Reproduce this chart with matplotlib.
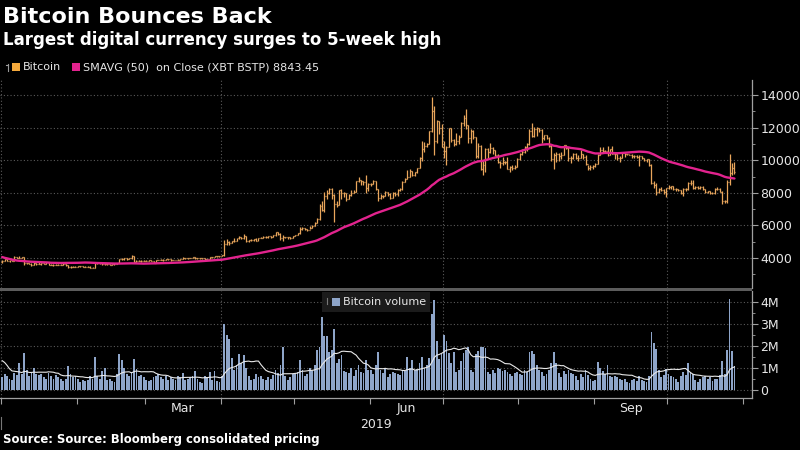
import numpy as np
import pandas as pd
import matplotlib
matplotlib.use("Agg")
import matplotlib.pyplot as plt
import matplotlib.dates as mdates
from matplotlib.lines import Line2D
from matplotlib.patches import Rectangle
from matplotlib.ticker import FixedLocator, MultipleLocator, NullFormatter

# ---------------- data ----------------
start_date = "2019-01-01"

# closes 13 Nov - 31 Dec 2018 (only used to warm up the 50-day average)
close_2018 = [6270, 5640, 5610, 5560, 5550, 5620, 4820, 4440, 4560, 4330, 4300, 3880, 4000, 3780, 3820, 4250, 4250, 3980,
              4170, 4120, 3840, 3930, 3760, 3500, 3400, 3420, 3540, 3430, 3380, 3470, 3280, 3220, 3200, 3240, 3550, 3690,
              3830, 4130, 3880, 3960, 3950, 4030, 3770, 3800, 3590, 3880, 3800, 3880, 3743]
# volume 18 - 31 Dec 2018 (millions, warm-up of the volume average)
volume_2018 = [1.9, 2.6, 2.8, 1.9, 1.0, 0.9, 1.4, 1.1, 0.9, 1.0, 1.2, 0.8, 0.8, 0.8]

close = [
    3843, 3943, 3837, 3858, 3845, 4076, 4026, 4030, 4035, 3678, 3688, 3661, 3553, 3706, 3630, 3655, 3678, 3657, 3729, 3601, 3577, 3601, 3584, 3600, 3599, 3603, 3584, 3477, 3438, 3472, 3448,
    3487, 3521, 3464, 3459, 3467, 3413, 3399, 3666, 3672, 3690, 3617, 3630, 3614, 3592, 3605, 3632, 3674, 3916, 3940, 3986, 3939, 3978, 4127, 3769, 3835, 3818, 3833, 3825,
    3838, 3848, 3807, 3722, 3861, 3875, 3882, 3864, 3934, 3919, 3864, 3886, 3868, 3878, 3934, 4020, 3982, 3986, 4012, 4036, 3970, 3981, 3991, 3985, 3927, 3946, 4051, 4048, 4104, 4118, 4111,
    4158, 4880, 4974, 4922, 5036, 5059, 5198, 5289, 5205, 5325, 5064, 5089, 5096, 5168, 5067, 5236, 5251, 5298, 5304, 5337, 5314, 5399, 5573, 5464, 5210, 5279, 5268, 5285, 5247, 5350,
    5402, 5505, 5768, 5831, 5795, 5746, 5830, 5982, 6174, 6379, 7204, 6973, 7815, 7995, 8206, 7885, 7343, 7272, 8197, 7979, 7964, 7627, 7877, 7996, 8059, 8727, 8785, 8719, 8660, 8276, 8561,
    8564, 8742, 8208, 7707, 7824, 7822, 8043, 7954, 7688, 8000, 7927, 8145, 8230, 8693, 8838, 8994, 9320, 9082, 9273, 9527, 10144, 10702, 10855, 11011, 11790, 13017, 11182, 12407, 11959, 10817,
    10583, 10801, 11961, 11215, 10978, 11208, 11450, 12285, 12573, 12156, 11358, 11815, 11393, 10256, 10895, 9477, 9693, 10666, 10530, 10767, 10599, 10343, 9900, 9811, 9911, 9871, 9477, 9553, 9519, 9607, 10085,
    10400, 10519, 10821, 10970, 11805, 11478, 11941, 11966, 11862, 11354, 11523, 11382, 10895, 10051, 10311, 10374, 10231, 10345, 10918, 10764, 10142, 10131, 10407, 10159, 10138, 10370, 10186, 9755, 9510, 9598, 9631,
    9757, 10347, 10624, 10595, 10588, 10323, 10681, 10400, 10359, 10108, 10160, 10415, 10361, 10358, 10347, 10277, 10242, 10199, 10229, 10160, 10005, 10070, 9700, 8586, 8495, 8075, 8213, 8192, 8042, 8307,
    8344, 8393, 8260, 8205, 8152, 7989, 8245, 8229, 8596, 8587, 8322, 8337, 8321, 8374, 8205, 8047, 8103, 7974, 7988, 8222, 8243, 8078, 7514, 7493, 8660, 9244, 9551, 9257,
]
high = [
    3850, 3948, 3945, 3866, 3904, 4094, 4092, 4110, 4067, 4065, 3720, 3697, 3674, 3728, 3720, 3730, 3683, 3685, 3782, 3745, 3611, 3633, 3621, 3618, 3612, 3668, 3610, 3585, 3487, 3495, 3508,
    3500, 3528, 3523, 3480, 3486, 3480, 3425, 3730, 3690, 3700, 3690, 3650, 3637, 3640, 3630, 3690, 3700, 3950, 4010, 4000, 4020, 3990, 4180, 4140, 3870, 3860, 3850, 3890,
    3860, 3860, 3860, 3830, 3880, 3900, 3910, 3925, 3940, 3940, 3920, 3900, 3890, 3915, 3950, 4080, 4030, 4010, 4030, 4050, 4060, 4000, 4010, 4000, 3990, 3960, 4060, 4060, 4120, 4150, 4130,
    4170, 5100, 5160, 5070, 5060, 5220, 5240, 5360, 5290, 5460, 5350, 5110, 5140, 5190, 5200, 5250, 5290, 5330, 5350, 5360, 5380, 5420, 5600, 5620, 5520, 5420, 5310, 5310, 5300, 5380,
    5420, 5530, 5880, 5880, 5840, 5810, 5970, 6000, 6200, 6430, 7300, 7480, 8050, 8150, 8300, 8300, 7950, 7470, 8200, 8250, 8050, 7990, 7940, 8150, 8150, 8750, 8950, 8800, 8720, 9070, 8600,
    8610, 8800, 8750, 8210, 7910, 7880, 8130, 8060, 7980, 8040, 8050, 8230, 8290, 8700, 8880, 9370, 9450, 9330, 9300, 9550, 10200, 11150, 11100, 11080, 11800, 13880, 13310, 12450, 12380, 12200,
    11200, 10900, 11970, 12000, 11300, 11670, 11550, 12330, 12780, 13130, 12160, 11900, 11840, 11450, 11050, 10940, 9980, 10740, 10740, 11050, 10800, 10640, 10350, 9930, 10170, 9960, 10200, 9640, 9690, 9720, 10110,
    10450, 10660, 10900, 11070, 11900, 12290, 12030, 12060, 12000, 11900, 11530, 11540, 11450, 10960, 10420, 10530, 10440, 10500, 10940, 10950, 10790, 10230, 10420, 10420, 10300, 10620, 10380, 10290, 9730, 9690, 9680,
    9800, 10410, 10800, 10800, 10650, 10900, 10700, 10880, 10480, 10390, 10240, 10440, 10440, 10400, 10380, 10370, 10290, 10290, 10300, 10270, 10160, 10100, 10080, 9790, 8730, 8580, 8310, 8330, 8230, 8320,
    8500, 8400, 8400, 8300, 8230, 8200, 8310, 8300, 8650, 8800, 8800, 8430, 8440, 8400, 8390, 8210, 8130, 8120, 8070, 8300, 8340, 8320, 8080, 7540, 8800, 10370, 9800, 9900,
]
low = [
    3707, 3817, 3812, 3784, 3836, 3826, 4015, 3997, 4016, 3589, 3630, 3607, 3522, 3550, 3600, 3626, 3596, 3625, 3652, 3563, 3548, 3530, 3569, 3569, 3553, 3588, 3521, 3413, 3400, 3431, 3440,
    3437, 3460, 3440, 3430, 3455, 3390, 3385, 3390, 3625, 3630, 3600, 3590, 3590, 3570, 3580, 3595, 3620, 3670, 3900, 3890, 3880, 3920, 3960, 3740, 3760, 3790, 3760, 3790,
    3820, 3830, 3790, 3690, 3710, 3850, 3860, 3840, 3850, 3880, 3840, 3850, 3850, 3860, 3870, 3930, 3960, 3960, 3970, 3990, 3940, 3950, 3960, 3960, 3890, 3910, 3940, 4020, 4040, 4080, 4090,
    4100, 4150, 4800, 4800, 4900, 4980, 5050, 5170, 5150, 5180, 5000, 5000, 5050, 5060, 5030, 5050, 5200, 5230, 5220, 5230, 5250, 5270, 5380, 5400, 5130, 5030, 5230, 5180, 5180, 5230,
    5320, 5390, 5500, 5740, 5700, 5630, 5760, 5830, 5970, 6170, 6330, 6900, 6850, 7630, 7930, 7600, 6180, 7100, 7250, 7600, 7750, 7500, 7600, 7800, 7960, 8030, 8650, 8500, 8480, 8000, 8130,
    8420, 8550, 8150, 7500, 7590, 7690, 7800, 7830, 7610, 7660, 7830, 7830, 8090, 8180, 8650, 8850, 8960, 9020, 9060, 9240, 9500, 9960, 10530, 10810, 11020, 11700, 10290, 11070, 11580, 10800,
    10130, 9700, 10790, 11090, 10900, 10950, 11000, 11420, 12070, 11910, 11050, 11050, 11310, 10150, 10150, 9420, 9070, 9300, 10150, 10460, 10390, 10250, 9820, 9550, 9730, 9770, 9450, 9290, 9400, 9480, 9580,
    10000, 10340, 10460, 10570, 10950, 11440, 11430, 11510, 11700, 11060, 11260, 11290, 10820, 9950, 9450, 9900, 9980, 10100, 10310, 10700, 9960, 9840, 10100, 10050, 9980, 10130, 10080, 9700, 9420, 9420, 9480,
    9590, 9750, 10330, 10440, 10440, 10250, 10330, 10350, 10090, 9990, 9900, 10110, 10210, 10300, 10290, 10130, 10160, 10130, 9650, 10060, 9970, 9910, 9670, 8520, 8280, 7870, 7970, 8100, 7950, 7750,
    8220, 8230, 8170, 8080, 8110, 7900, 7800, 8130, 8170, 8470, 8250, 8260, 8260, 8250, 8160, 7980, 7960, 7900, 7930, 7900, 8150, 8040, 7300, 7370, 7400, 8500, 9110, 9180,
]
volume_m = [
    0.55, 0.7, 0.6, 0.5, 0.45, 0.75, 0.65, 1.2, 0.7, 1.65, 0.9, 0.6, 0.8, 1.0, 0.7, 0.65, 0.7, 0.55, 0.5, 0.75, 0.6, 0.5, 0.65, 0.55, 0.5, 0.4, 0.5, 1.05, 0.7, 0.55, 0.6,
    0.5, 0.35, 0.45, 0.4, 0.45, 0.6, 0.5, 1.5, 0.6, 0.5, 0.85, 1.0, 0.45, 0.5, 0.4, 0.35, 0.7, 1.6, 1.35, 1.0, 0.7, 0.6, 0.8, 1.4, 0.95, 0.6, 0.65, 0.55,
    0.45, 0.4, 0.45, 0.55, 0.6, 0.7, 0.55, 0.5, 0.6, 0.45, 0.55, 0.5, 0.45, 0.6, 0.55, 0.77, 0.45, 0.5, 0.55, 0.6, 0.83, 0.5, 0.35, 0.3, 0.6, 0.55, 0.8, 0.45, 0.85, 0.4, 0.35,
    0.6, 2.98, 2.5, 2.3, 1.45, 0.9, 1.1, 1.6, 1.2, 1.55, 1.0, 0.6, 0.45, 0.5, 0.7, 0.55, 0.6, 0.5, 0.45, 0.55, 0.5, 0.65, 0.9, 0.75, 1.1, 1.95, 0.6, 0.45, 0.55, 0.7,
    0.75, 0.8, 1.35, 0.9, 0.6, 0.7, 1.0, 0.85, 1.1, 1.8, 1.95, 3.3, 2.45, 2.45, 1.7, 1.8, 2.75, 1.2, 1.4, 1.55, 0.85, 0.8, 0.75, 1.0, 0.6, 0.9, 1.1, 0.8, 0.75, 1.35, 0.9,
    0.9, 0.7, 1.1, 1.7, 0.9, 0.75, 1.0, 0.55, 0.7, 0.8, 0.75, 0.7, 0.65, 0.9, 0.85, 1.5, 1.0, 1.35, 0.9, 0.95, 1.2, 1.5, 1.0, 1.1, 1.45, 3.45, 4.05, 2.2, 1.4, 1.6,
    2.5, 2.2, 1.65, 1.2, 1.7, 0.8, 0.9, 1.3, 1.65, 1.8, 1.95, 0.9, 0.8, 1.6, 1.75, 1.95, 1.95, 1.9, 0.8, 0.7, 0.9, 0.75, 1.0, 0.95, 0.85, 0.9, 0.8, 0.7, 0.6, 0.75, 0.8,
    0.7, 0.65, 0.9, 0.8, 1.7, 1.75, 1.6, 1.1, 0.9, 0.8, 0.6, 0.7, 0.9, 1.2, 1.7, 1.2, 0.75, 0.55, 0.85, 0.7, 0.9, 0.75, 0.7, 0.6, 0.45, 0.7, 0.55, 0.9, 0.65, 0.5, 0.4,
    0.45, 1.25, 1.0, 0.85, 0.7, 1.1, 0.6, 0.55, 0.6, 0.55, 0.5, 0.45, 0.5, 0.35, 0.3, 0.45, 0.5, 0.4, 0.6, 0.45, 0.4, 0.35, 0.6, 2.6, 2.1, 1.85, 0.9, 0.55, 0.65, 0.95,
    0.7, 0.6, 0.55, 0.5, 0.35, 0.6, 0.8, 0.65, 1.2, 0.75, 0.7, 0.45, 0.35, 0.5, 0.55, 0.6, 0.5, 0.55, 0.4, 0.5, 0.5, 0.65, 1.3, 0.7, 1.8, 4.1, 1.75, 1.05,
]

sma_window = 50
vol_window = 15
price_ticks = [4000, 6000, 8000, 10000, 12000, 14000]
vol_ticks = [0, 1, 2, 3, 4]
vol_tick_labels = ["0", "1M", "2M", "3M", "4M"]
month_labels = ["Mar", "Jun", "Sep"]
month_label_dates = ["2019-03-16 12:00", "2019-06-16", "2019-09-16"]
grid_dates = ["2019-01-01", "2019-04-01", "2019-07-01", "2019-10-01"]
year_label = "2019"
title = "Bitcoin Bounces Back"
subtitle = "Largest digital currency surges to 5-week high"
legend_price = "Bitcoin"
legend_sma = "SMAVG (50)  on Close (XBT BSTP) 8843.45"
legend_vol = "Bitcoin volume"
source = "Source: Source: Bloomberg consolidated pricing"

# ---------------- derived ----------------
n = len(close)
dates = pd.date_range(start_date, periods=n, freq="D") + pd.Timedelta(hours=12)
x = mdates.date2num(dates.to_pydatetime())
opens = [close_2018[-1]] + close[:-1]
sma = pd.Series(close_2018 + close).rolling(sma_window).mean().to_numpy()[-n:]
vol_ma = pd.Series(volume_2018 + volume_m).rolling(vol_window).mean().to_numpy()[-n:]

# ---------------- style ----------------
BG = "#000000"
BAR = "#e9a65c"
SMA_C = "#e2238e"
VOL_C = "#8ea5c9"
GRID = "#5a5a5a"
AXC = "#a0a0a0"
TXT = "#e6e6e6"

W, H = 800, 450
fig = plt.figure(figsize=(8, 4.5), dpi=100, facecolor=BG)


def rect(l, t, r, b):
    return [l / W, 1 - b / H, (r - l) / W, (b - t) / H]


axp = fig.add_axes(rect(0, 80, 752, 288))
axv = fig.add_axes(rect(0, 291, 752, 398), sharex=axp)

x0 = mdates.date2num(pd.Timestamp(start_date).to_pydatetime())
xlim = (x0 - 0.4, x0 + 752 / 2.444)

for ax in (axp, axv):
    ax.set_facecolor(BG)
    for s in ("top", "left", "bottom"):
        ax.spines[s].set_visible(False)
    ax.spines["right"].set_color(AXC)
    ax.spines["right"].set_linewidth(0.9)
    ax.yaxis.tick_right()
    ax.tick_params(axis="y", which="major", colors=AXC, labelcolor=TXT, labelsize=9,
                   length=4, width=0.8, pad=2)
    ax.tick_params(axis="y", which="minor", colors=AXC, length=2, width=0.6)
    for gd in grid_dates:
        ax.axvline(mdates.date2num(pd.Timestamp(gd).to_pydatetime()), color=GRID,
                   lw=0.8, ls=(0, (1, 2)), zorder=0)

# price panel
axp.vlines(x, low, high, color=BAR, lw=0.9, zorder=2)
axp.hlines(opens, x - 0.4, x, color=BAR, lw=0.9, zorder=2)
axp.hlines(close, x, x + 0.4, color=BAR, lw=0.9, zorder=2)
axp.plot(x, sma, color=SMA_C, lw=1.7, zorder=3, solid_capstyle="round")
axp.set_ylim(2160, 14920)
axp.set_yticks(price_ticks)
axp.set_yticklabels([str(v) for v in price_ticks])
axp.yaxis.set_minor_locator(MultipleLocator(1000))
for v in price_ticks:
    axp.axhline(v, color=GRID, lw=0.8, ls=(0, (1, 2)), zorder=0)
axp.tick_params(axis="x", which="both", bottom=False, labelbottom=False)
axp.set_xlim(*xlim)

# volume panel
axv.bar(x, volume_m, width=0.75, color=VOL_C, zorder=2, linewidth=0)
axv.plot(x, vol_ma, color="#e8e8e8", lw=0.8, zorder=3)
axv.set_ylim(-0.385, 4.48)
axv.set_yticks(vol_ticks)
axv.set_yticklabels(vol_tick_labels)
axv.yaxis.set_minor_locator(MultipleLocator(0.5))
for v in vol_ticks:
    axv.axhline(v, color=GRID, lw=0.8, ls=(0, (1, 2)), zorder=0)
axv.spines["bottom"].set_visible(True)
axv.spines["bottom"].set_color(AXC)
axv.spines["bottom"].set_linewidth(0.9)
axv.xaxis.set_major_locator(mdates.MonthLocator())
axv.xaxis.set_major_formatter(NullFormatter())
axv.xaxis.set_minor_locator(FixedLocator(
    [mdates.date2num(pd.Timestamp(d).to_pydatetime()) for d in month_label_dates]))
axv.set_xticklabels(month_labels, minor=True)
axv.tick_params(axis="x", which="major", colors=AXC, length=4, width=0.8, direction="out")
axv.tick_params(axis="x", which="minor", length=0, labelcolor=TXT, labelsize=9, pad=3)
axv.set_xlim(*xlim)

# separator between panels
fig.add_artist(Rectangle((0, 1 - 290.5 / H), 752 / W, 2.5 / H, transform=fig.transFigure,
                         color="#5c5c5c", lw=0))

# titles
fig.text(3 / W, 1 - 17 / H, title, fontsize=16, fontweight="bold", color="white", va="center")
fig.text(3 / W, 1 - 40 / H, subtitle, fontsize=12, fontweight="bold", color="white", va="center")

# price legend
ly = 1 - 67 / H
fig.add_artist(Line2D([8 / W, 8 / W], [1 - 64 / H, 1 - 71 / H], color="#9a9a9a", lw=0.8,
                      transform=fig.transFigure))
fig.add_artist(Line2D([6 / W, 8 / W], [1 - 65 / H, 1 - 65 / H], color="#9a9a9a", lw=0.8,
                      transform=fig.transFigure))
fig.add_artist(Rectangle((12 / W, 1 - 71 / H), 8 / W, 8 / H, transform=fig.transFigure,
                         color="#f4a93c", lw=0))
fig.text(23 / W, ly, legend_price, fontsize=8, color=TXT, va="center")
fig.add_artist(Rectangle((72 / W, 1 - 71 / H), 8 / W, 8 / H, transform=fig.transFigure,
                         color=SMA_C, lw=0))
fig.text(83 / W, ly, legend_sma, fontsize=8, color=TXT, va="center")

# volume legend box
fig.add_artist(Rectangle((322 / W, 1 - 312 / H), 108 / W, 20 / H, transform=fig.transFigure,
                         color="#1b1b1b", lw=0, zorder=5))
fig.add_artist(Rectangle((332 / W, 1 - 306 / H), 8 / W, 8 / H, transform=fig.transFigure,
                         color=VOL_C, lw=0, zorder=6))
fig.add_artist(Line2D([327 / W, 327 / W], [1 - 298 / H, 1 - 304 / H], color="#777777", lw=0.8,
                      transform=fig.transFigure, zorder=6))
fig.text(343 / W, 1 - 302 / H, legend_vol, fontsize=8, color=TXT, va="center", zorder=7)

# year label and source
fig.text(376 / W, 1 - 425 / H, year_label, fontsize=9, color=TXT, ha="center", va="center")
fig.add_artist(Line2D([1 / W, 1 / W], [1 - 417 / H, 1 - 429 / H], color="#777777", lw=0.8,
                      transform=fig.transFigure))
fig.text(3 / W, 1 - 440 / H, source, fontsize=8.4, fontweight="bold", color="white", va="center")

fig.savefig("out.png", dpi=100, facecolor=BG)
